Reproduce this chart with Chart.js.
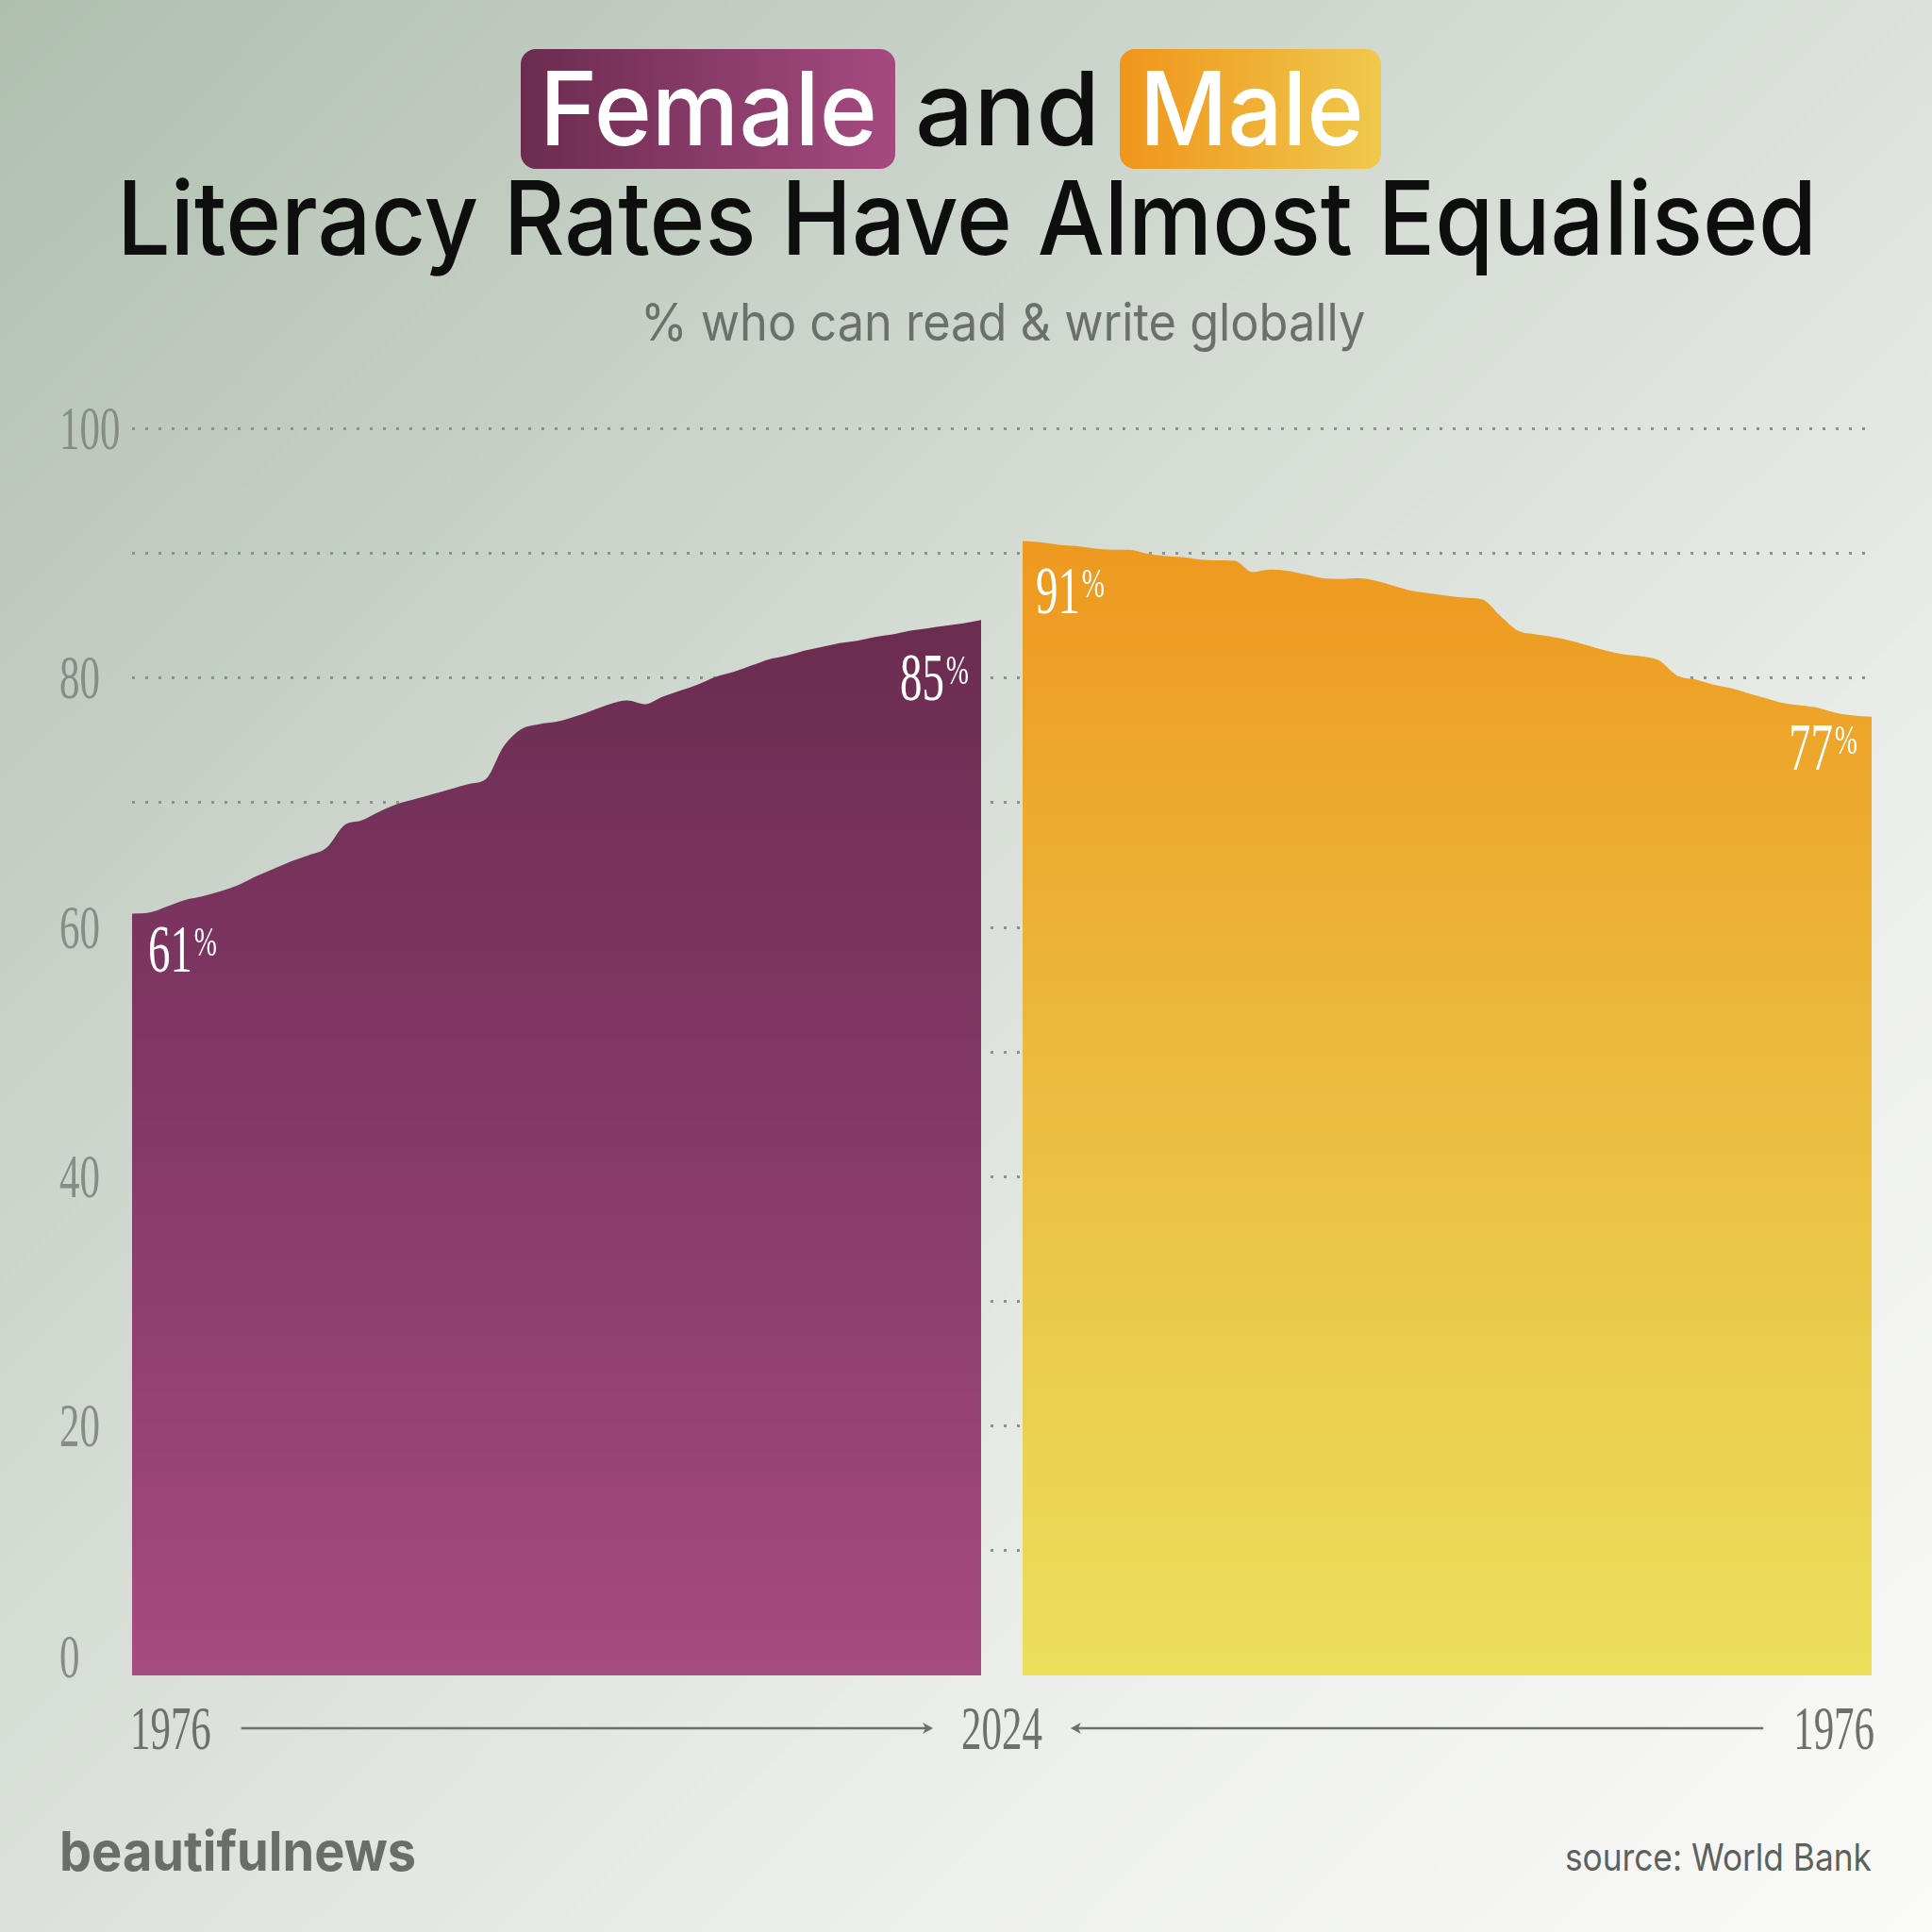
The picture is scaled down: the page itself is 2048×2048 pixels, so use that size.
<!DOCTYPE html>
<html lang="en">
<head>
<meta charset="UTF-8">
<title>Female and Male Literacy Rates</title>
<script src="https://cdn.jsdelivr.net/npm/chart.js@4.4.1/dist/chart.umd.min.js"></script>
<style>
  * { margin: 0; padding: 0; box-sizing: border-box; }
  body {
    width: 2048px; height: 2048px; overflow: hidden; position: relative;
    background: linear-gradient(135deg, #afbfae 0%, #c9d3c9 28%, #dde3dc 52%, #eef0ed 74%, #fafaf8 100%);
    font-family: Inter, "Open Sans", sans-serif;
  }
  .fit { position: absolute; white-space: nowrap; transform-origin: 0 0; line-height: 1; }
  .pill { position: absolute; border-radius: 16px; }
  #chartWrap { position: absolute; left: 0; top: 400px; width: 2048px; height: 1500px; }
</style>
</head>
<body>
  <div class="pill" style="left:552px;top:52px;width:397px;height:127px;background:linear-gradient(90deg,#6b2c4f,#a54a81);"></div>
  <div class="pill" style="left:1187px;top:52px;width:277px;height:127px;background:linear-gradient(90deg,#ef951b,#efc94d);"></div>

  <div class="fit" data-w="358" style="left:572px;top:61px;font-size:108px;font-weight:500;color:#fff;">Female</div>
  <div class="fit" data-w="196" style="left:970px;top:61px;font-size:108px;font-weight:500;color:#0e0e0e;">and</div>
  <div class="fit" data-w="238" style="left:1208px;top:61px;font-size:108px;font-weight:500;color:#fff;">Male</div>
  <div class="fit" data-w="1802" style="left:124px;top:177px;font-size:108px;font-weight:500;color:#0e0e0e;">Literacy Rates Have Almost Equalised</div>
  <div class="fit" data-w="768" style="left:679px;top:314px;font-size:55px;font-weight:400;color:#6b706a;">% who can read &amp; write globally</div>

  <div id="chartWrap"><canvas id="chart" width="2048" height="1500"></canvas></div>

  <div class="fit" data-w="378" style="left:63px;top:1933px;font-size:58px;font-weight:700;color:#6a6e69;">beautifulnews</div>
  <div class="fit" data-w="325" style="left:1659px;top:1949px;font-size:40px;font-weight:400;color:#5d615c;">source: World Bank</div>

<script>
// years shown on both panels (left panel runs forward, right panel runs backward)
const years = [1976, 1977, 1978, 1979, 1980, 1981, 1982, 1983, 1984, 1985,
               1986, 1987, 1988, 1989, 1990, 1991, 1992, 1993, 1994, 1995,
               1996, 1997, 1998, 1999, 2000, 2001, 2002, 2003, 2004, 2005,
               2006, 2007, 2008, 2009, 2010, 2011, 2012, 2013, 2014, 2015,
               2016, 2017, 2018, 2019, 2020, 2021, 2022, 2023, 2024];

// % literate
const femaleRate = [61.1, 61.2, 61.7, 62.2, 62.5, 62.9, 63.4, 64.1, 64.7, 65.3,
                    65.8, 66.4, 68.2, 68.6, 69.3, 69.9, 70.3, 70.7, 71.1, 71.5,
                    71.9, 74.5, 75.9, 76.3, 76.5, 76.9, 77.4, 77.9, 78.2, 77.9,
                    78.5, 79.0, 79.5, 80.1, 80.5, 81.0, 81.5, 81.8, 82.2, 82.5,
                    82.8, 83.0, 83.3, 83.5, 83.8, 84.0, 84.2, 84.4, 84.65];

const maleRate = [76.9, 77.0, 77.2, 77.6, 77.8, 78.0, 78.4, 78.8, 79.2, 79.5,
                  79.9, 80.2, 81.4, 81.75, 81.9, 82.2, 82.6, 83.0, 83.3, 83.5,
                  83.8, 85.0, 86.3, 86.45, 86.6, 86.8, 87.0, 87.4, 87.8, 88.0,
                  87.95, 88.0, 88.3, 88.6, 88.7, 88.5, 89.4, 89.45, 89.5, 89.7,
                  89.8, 90.0, 90.3, 90.3, 90.4, 90.6, 90.7, 90.9, 91.0];

const yTicks = [0, 20, 40, 60, 80, 100];

// stretch each title/footer line to the width it has in the original
document.querySelectorAll('.fit').forEach(el => {
  const w = +el.dataset.w;
  el.style.transform = 'scaleX(' + (w / el.offsetWidth) + ')';
});

const first = years[0], last = years[years.length - 1];
// panel width 900px, gap 43px -> whole plot is 1844px wide
const span = (last - first) * 1844 / 900;

function gradient(chart, topVal, c1, c2, c3) {
  const area = chart.chartArea;
  if (!area) return c1;
  const top = chart.scales.y.getPixelForValue(topVal);
  const g = chart.ctx.createLinearGradient(0, top, 0, area.bottom);
  g.addColorStop(0, c1);
  g.addColorStop(0.5, c2);
  g.addColorStop(1, c3);
  return g;
}

// condensed serif numerals: no narrow font installed, so squeeze a serif
const SERIF = '"Liberation Serif", "DejaVu Serif", serif';
const SQUEEZE = 0.66;

function narrowText(c, text, x, y, align) {
  const w = c.measureText(text).width * SQUEEZE;
  let x0 = x;
  if (align === 'right') x0 = x - w;
  if (align === 'center') x0 = x - w / 2;
  c.save();
  c.translate(x0, y);
  c.scale(SQUEEZE, 1);
  c.textAlign = 'left';
  c.fillText(text, 0, 0);
  c.restore();
  return w;
}

const yLabels = {
  id: 'yLabels',
  afterDraw(chart) {
    const c = chart.ctx;
    const ys = chart.scales.y;
    c.save();
    c.font = '65px ' + SERIF;
    c.fillStyle = '#878d86';
    c.textBaseline = 'alphabetic';
    yTicks.forEach(v => {
      const py = ys.getPixelForValue(v);
      // digits are ~43px tall; the 0 sits on the baseline instead of centring
      const base = v === 0 ? py + 2 : py + 21.5;
      narrowText(c, String(v), ys.left, base, 'left');
    });
    c.restore();
  }
};

const yearLabels = {
  id: 'yearLabels',
  afterDraw(chart) {
    const c = chart.ctx;
    const xf = chart.scales.xf, xm = chart.scales.xm;
    const y = 1432;
    c.save();
    c.font = '65px ' + SERIF;
    c.fillStyle = '#6c716b';
    c.strokeStyle = '#6c716b';
    c.textBaseline = 'alphabetic';

    const l = xf.getPixelForValue(first) - 2;
    const r = xm.getPixelForValue(first) + 3;
    const mid = (xf.getPixelForValue(last) + xm.getPixelForValue(last)) / 2;

    const wFirst = narrowText(c, String(first), l, y + 21.5, 'left');
    const wLast = narrowText(c, String(last), mid, y + 21.5, 'center');
    narrowText(c, String(first), r, y + 21.5, 'right');

    function arrow(x0, x1) {
      const dir = Math.sign(x1 - x0);
      c.lineWidth = 2.5;
      c.beginPath();
      c.moveTo(x0, y);
      c.lineTo(x1 - dir * 6, y);
      c.stroke();
      c.beginPath();
      c.moveTo(x1, y);
      c.lineTo(x1 - dir * 11, y - 6);
      c.lineTo(x1 - dir * 8, y);
      c.lineTo(x1 - dir * 11, y + 6);
      c.closePath();
      c.fill();
    }
    arrow(l + wFirst + 32, mid - wLast / 2 - 30);
    arrow(r - wFirst - 32, mid + wLast / 2 + 30);
    c.restore();
  }
};

// white "61%" style labels at each end of both areas
const endLabels = {
  id: 'endLabels',
  afterDatasetsDraw(chart) {
    const c = chart.ctx;
    const ys = chart.scales.y;
    const xf = chart.scales.xf, xm = chart.scales.xm;
    const items = [
      { v: femaleRate[0], x: xf.getPixelForValue(first) + 17, dy: 61, align: 'left' },
      { v: femaleRate[femaleRate.length - 1], x: xf.getPixelForValue(last) - 13, dy: 85, align: 'right' },
      { v: maleRate[maleRate.length - 1], x: xm.getPixelForValue(last) + 14, dy: 77, align: 'left' },
      { v: maleRate[0], x: xm.getPixelForValue(first) - 15, dy: 56, align: 'right' }
    ];
    c.save();
    c.fillStyle = '#ffffff';
    c.textBaseline = 'alphabetic';
    items.forEach(it => {
      const num = String(Math.round(it.v));
      const base = ys.getPixelForValue(it.v) + it.dy;
      c.font = '71px ' + SERIF;
      const wn = c.measureText(num).width * SQUEEZE;
      c.font = '44px ' + SERIF;
      const wp = c.measureText('%').width * SQUEEZE;
      const x0 = it.align === 'left' ? it.x : it.x - wn - wp - 2;
      c.font = '71px ' + SERIF;
      narrowText(c, num, x0, base, 'left');
      c.font = '44px ' + SERIF;
      narrowText(c, '%', x0 + wn + 2, base - 17, 'left');
    });
    c.restore();
  }
};

new Chart(document.getElementById('chart'), {
  type: 'line',
  data: {
    datasets: [
      {
        label: 'Female',
        data: years.map((yr, i) => ({ x: yr, y: femaleRate[i] })),
        xAxisID: 'xf',
        fill: 'origin',
        borderWidth: 0,
        pointRadius: 0,
        cubicInterpolationMode: 'monotone',
        backgroundColor: ctx => gradient(ctx.chart, 86, '#6a2c4f', '#85396a', '#a64b82')
      },
      {
        label: 'Male',
        data: years.map((yr, i) => ({ x: yr, y: maleRate[i] })),
        xAxisID: 'xm',
        fill: 'origin',
        borderWidth: 0,
        pointRadius: 0,
        cubicInterpolationMode: 'monotone',
        backgroundColor: ctx => gradient(ctx.chart, 92, '#ee981e', '#ebbd40', '#ebe05c')
      }
    ]
  },
  options: {
    responsive: false,
    animation: false,
    devicePixelRatio: 1,
    layout: { padding: { left: 63, right: 64, top: 54.5, bottom: 124 } },
    plugins: { legend: { display: false }, tooltip: { enabled: false } },
    scales: {
      xf: { type: 'linear', display: false, min: first, max: first + span },
      xm: { type: 'linear', display: false, min: first, max: first + span, reverse: true },
      y: {
        min: 0,
        max: 100,
        afterFit: s => { s.width = 77; },
        ticks: { stepSize: 10, display: false },
        grid: {
          drawTicks: false,
          lineWidth: 3,
          color: c => c.tick && c.tick.value === 0 ? 'rgba(0,0,0,0)' : '#8c928b'
        },
        border: { display: false, dash: [3, 11] }
      }
    }
  },
  plugins: [endLabels, yLabels, yearLabels]
});
</script>
</body>
</html>
